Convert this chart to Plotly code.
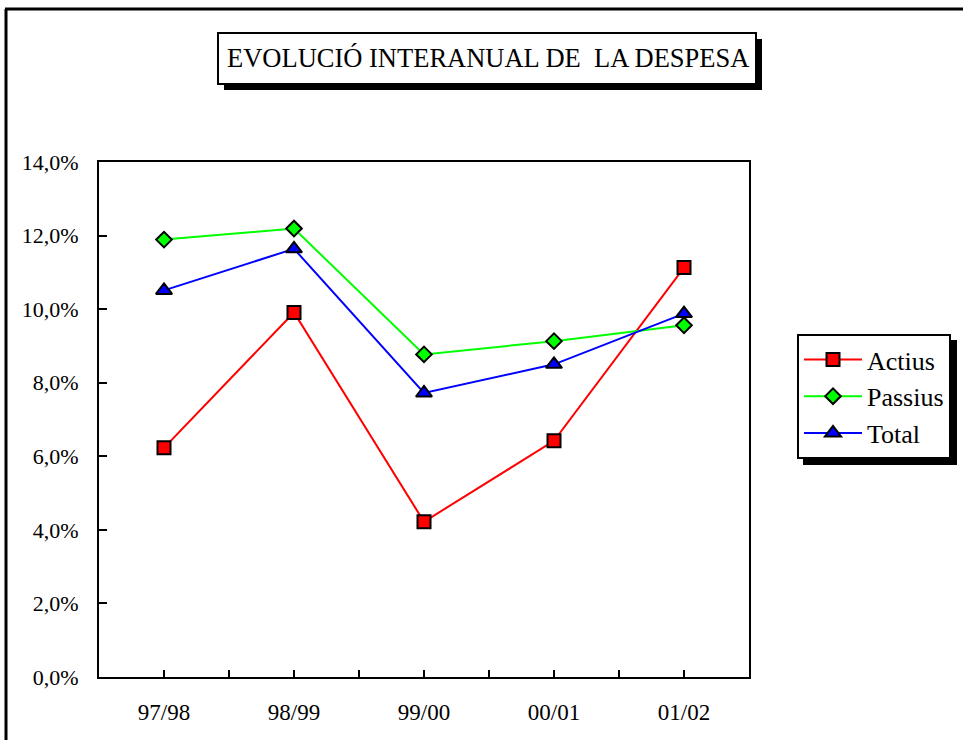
import plotly.graph_objects as go

categories = ["97/98", "98/99", "99/00", "00/01", "01/02"]
actius = [6.23, 9.91, 4.22, 6.42, 11.13]
passius = [11.89, 12.19, 8.77, 9.13, 9.56]
total = [10.51, 11.64, 7.72, 8.50, 9.88]
y_ticks = [0, 2, 4, 6, 8, 10, 12, 14]
y_labels = ["0,0%", "2,0%", "4,0%", "6,0%", "8,0%", "10,0%", "12,0%", "14,0%"]

W, H = 963, 740
L, R, T, B = 99, 749, 162, 677

def px(x):
    return (x - L) / (R - L)

def py(y):
    return (B - y) / (B - T)

FONT = "Liberation Serif, Times New Roman, serif"
xs = list(range(len(categories)))

fig = go.Figure()
fig.add_trace(go.Scatter(x=xs, y=actius, name="Actius", mode="lines+markers",
                         line=dict(color="#ff0000", width=2),
                         marker=dict(symbol="square", size=13, color="#ff0000",
                                     line=dict(color="black", width=2))))
fig.add_trace(go.Scatter(x=xs, y=passius, name="Passius", mode="lines+markers",
                         line=dict(color="#00ff00", width=2),
                         marker=dict(symbol="diamond", size=12, color="#00ff00",
                                     line=dict(color="black", width=2))))
fig.add_trace(go.Scatter(x=xs, y=total, name="Total", mode="lines+markers",
                         line=dict(color="#0000ff", width=2),
                         marker=dict(symbol="triangle-up", size=14, color="#0000ff",
                                     line=dict(color="black", width=2))))

xtickvals = [i * 0.5 for i in range(0, 9)]
xticktext = [categories[int(v)] if v == int(v) else "" for v in xtickvals]

fig.update_xaxes(range=[-0.5, 4.5], tickvals=xtickvals, ticktext=xticktext,
                 showline=True, linecolor="black", linewidth=2, mirror=True,
                 ticks="inside", ticklen=7, tickwidth=2, tickcolor="black",
                 showgrid=False, zeroline=False, ticklabelstandoff=13,
                 tickfont=dict(family=FONT, size=23, color="black"))
fig.update_yaxes(range=[0, 14], tickvals=y_ticks, ticktext=y_labels,
                 showline=True, linecolor="black", linewidth=2, mirror=True,
                 ticks="inside", ticklen=8, tickwidth=2, tickcolor="black",
                 showgrid=False, zeroline=False, ticklabelstandoff=14,
                 tickfont=dict(family=FONT, size=22, color="black"))

shapes = [
    # outer frame (left and top)
    dict(type="line", xref="paper", yref="paper", x0=px(6), x1=px(6), y0=py(9), y1=py(745),
         line=dict(color="black", width=3)),
    dict(type="line", xref="paper", yref="paper", x0=px(5), x1=px(970), y0=py(9), y1=py(9),
         line=dict(color="black", width=3)),
    # title shadow and box
    dict(type="rect", xref="paper", yref="paper", x0=px(224), x1=px(762), y0=py(90), y1=py(39),
         fillcolor="black", line=dict(width=0), layer="below"),
    dict(type="rect", xref="paper", yref="paper", x0=px(218), x1=px(756), y0=py(84), y1=py(33),
         fillcolor="white", line=dict(color="black", width=2), layer="below"),
    # legend shadow
    dict(type="rect", xref="paper", yref="paper", x0=px(803), x1=px(957), y0=py(465), y1=py(340),
         fillcolor="black", line=dict(width=0), layer="below"),
]

fig.update_layout(
    width=W, height=H,
    margin=dict(l=L, r=W - R, t=T, b=H - B),
    paper_bgcolor="white", plot_bgcolor="white",
    shapes=shapes,
    annotations=[dict(text="EVOLUCIÓ INTERANUAL DE  LA DESPESA", xref="paper", yref="paper",
                      x=px(488), y=py(58), xanchor="center", yanchor="middle",
                      showarrow=False, font=dict(family=FONT, size=26.5, color="black"))],
    legend=dict(x=px(797), y=py(334), xanchor="left", yanchor="top",
                bgcolor="white", bordercolor="black", borderwidth=2,
                font=dict(family=FONT, size=26, color="black"),
                itemwidth=58, tracegroupgap=0),
    showlegend=True,
)

fig.write_html("out.html", config={"displayModeBar": False},
               post_script="document.body.style.margin='0px';")
